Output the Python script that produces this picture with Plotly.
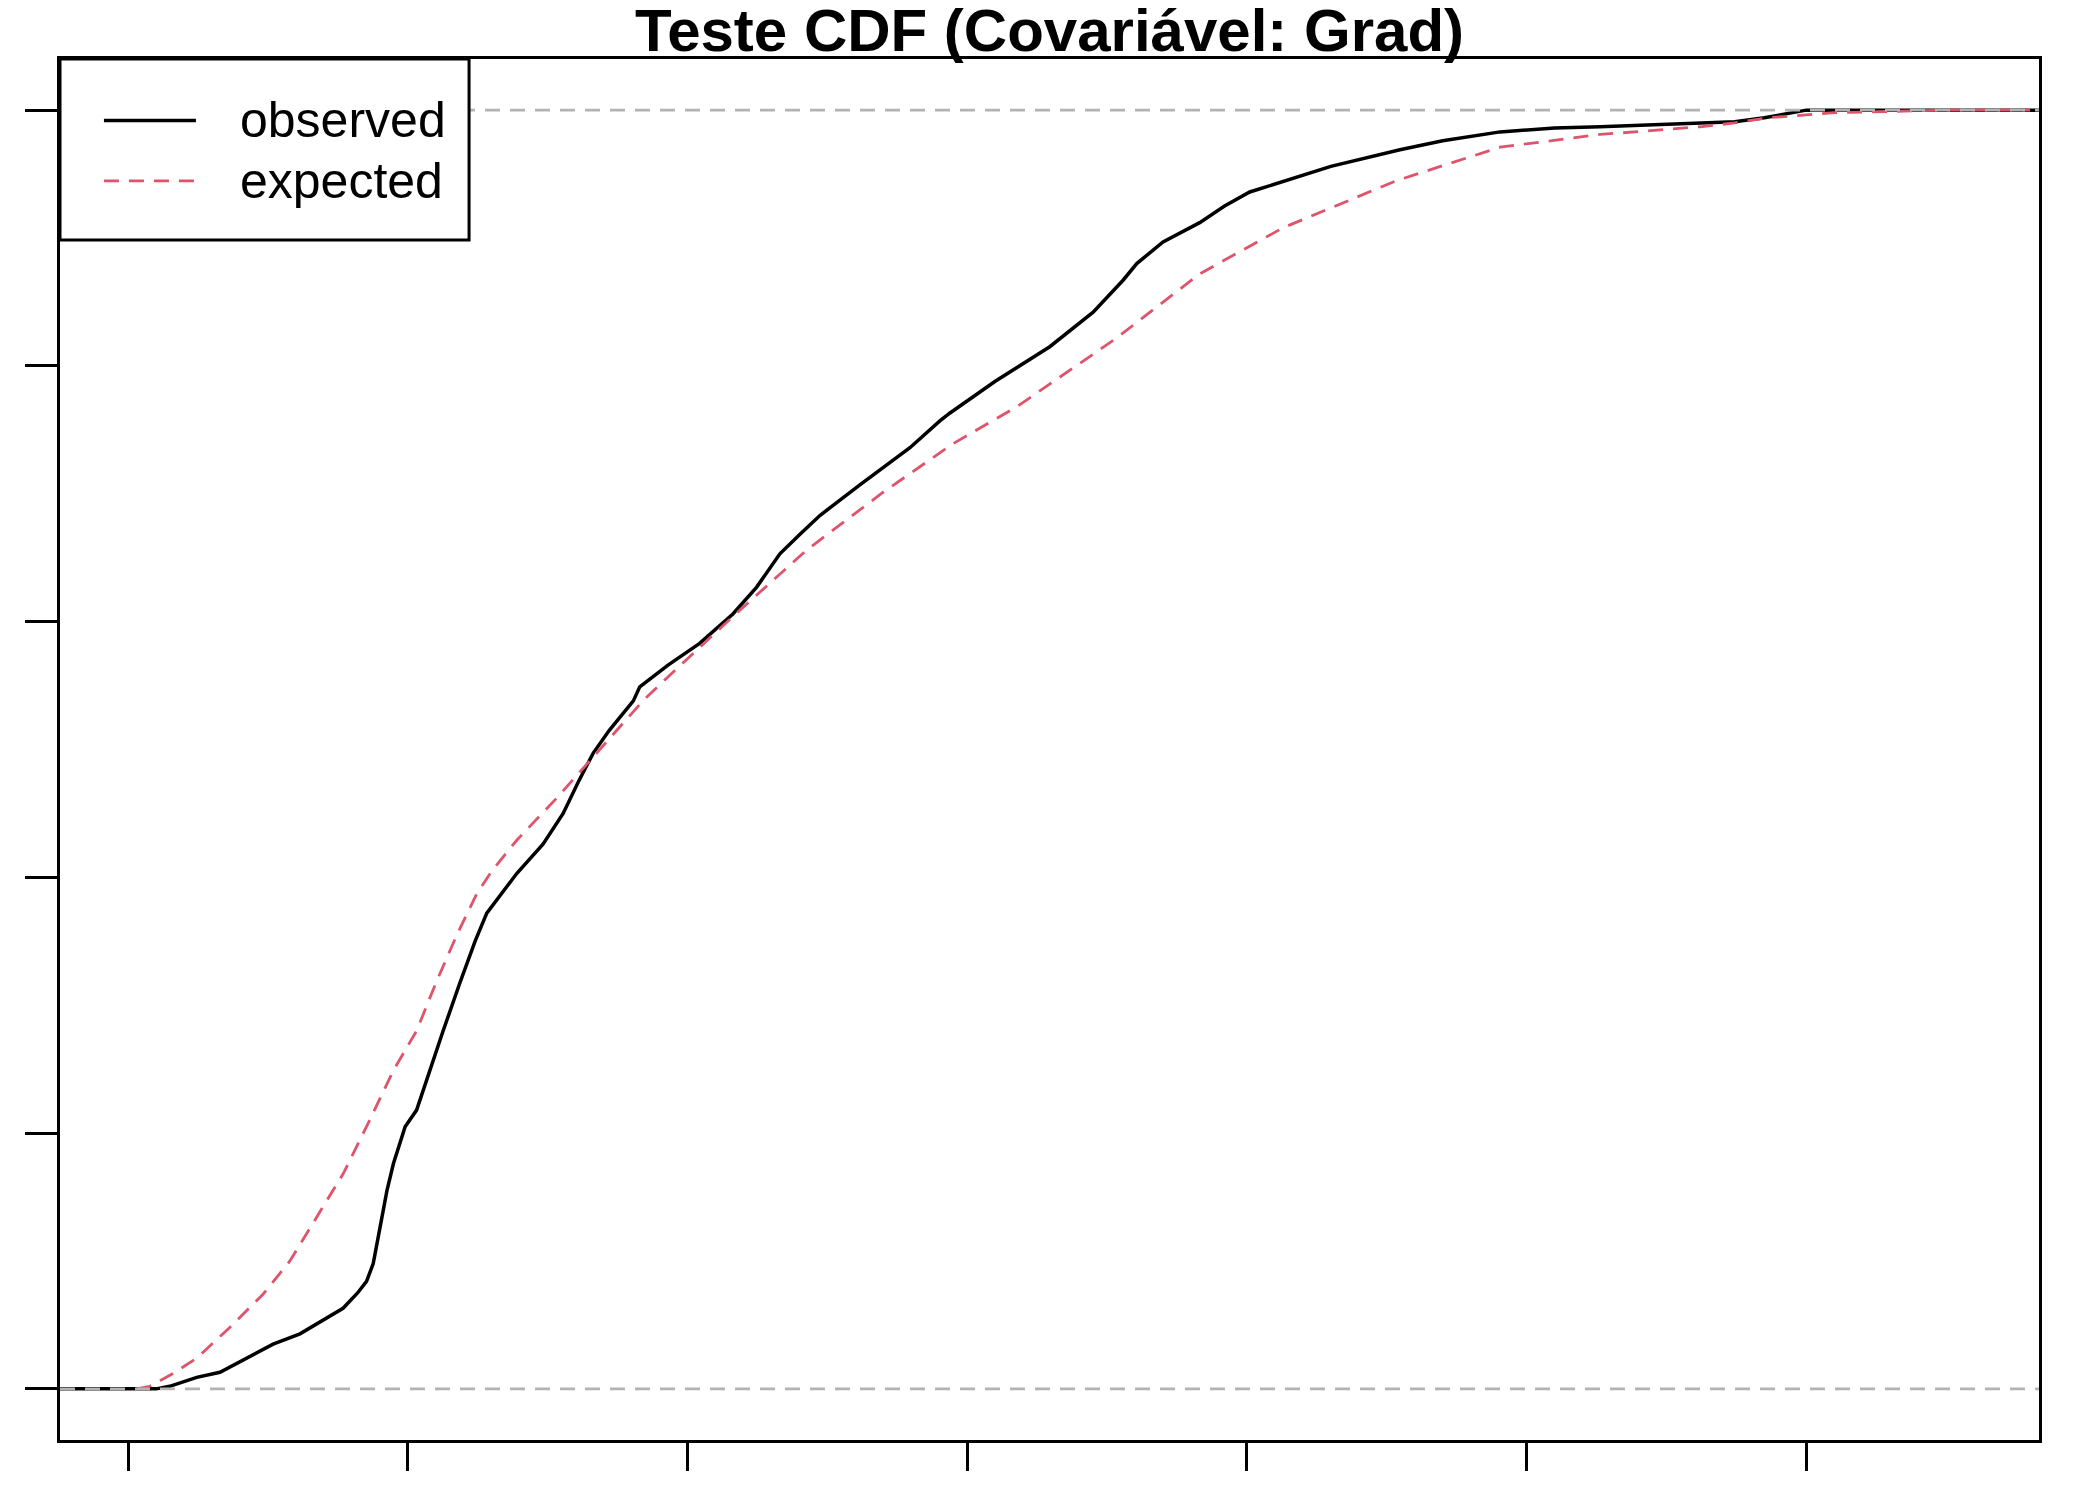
import plotly.graph_objects as go

# ---- data ----
x_ticks = [0, 1, 2, 3, 4, 5, 6]
y_ticks = [0, 0.2, 0.4, 0.6, 0.8, 1.0]
x_range = [-0.244, 6.832]
y_range = [-0.04, 1.04]

obs_x = [-0.244, 0.10, 0.148, 0.245, 0.328, 0.423, 0.518, 0.614, 0.690, 0.768, 0.82, 0.852, 0.876,
         0.90, 0.925, 0.948, 0.99, 1.031, 1.078, 1.126, 1.185, 1.24, 1.282, 1.317, 1.389, 1.483,
         1.555, 1.610, 1.662, 1.72, 1.806, 1.829, 1.93, 2.043, 2.162, 2.247, 2.330, 2.40, 2.473,
         2.616, 2.70, 2.795, 2.902, 2.937, 3.10, 3.295, 3.45, 3.557, 3.606, 3.70, 3.831, 3.92,
         4.010, 4.143, 4.30, 4.547, 4.70, 4.905, 5.10, 5.263, 5.386, 5.56, 5.744, 5.85, 5.93,
         6.0, 6.832]
obs_y = [0.0, 0.0, 0.002, 0.009, 0.013, 0.024, 0.035, 0.043, 0.053, 0.063, 0.075, 0.084, 0.098,
         0.125, 0.155, 0.176, 0.205, 0.218, 0.249, 0.280, 0.317, 0.350, 0.372, 0.382, 0.403, 0.426,
         0.450, 0.475, 0.497, 0.515, 0.538, 0.549, 0.566, 0.583, 0.606, 0.627, 0.653, 0.668, 0.683,
         0.707, 0.721, 0.736, 0.757, 0.763, 0.788, 0.815, 0.842, 0.867, 0.880, 0.897, 0.912, 0.925,
         0.936, 0.945, 0.956, 0.969, 0.976, 0.983, 0.986, 0.987, 0.988, 0.990, 0.991, 0.994, 0.997,
         1.0, 1.0]

exp_x = [0.03, 0.077, 0.160, 0.245, 0.363, 0.482, 0.578, 0.673, 0.768, 0.863, 0.948, 1.031, 1.103,
         1.175, 1.246, 1.30, 1.389, 1.532, 1.722, 1.840, 1.926, 2.187, 2.426, 2.698, 2.948, 3.177,
         3.535, 3.831, 4.129, 4.536, 4.905, 5.263, 5.386, 5.620, 5.744, 5.86, 6.10, 6.50, 6.80]
exp_y = [0.0, 0.002, 0.012, 0.024, 0.048, 0.074, 0.100, 0.134, 0.168, 0.210, 0.249, 0.280, 0.319,
         0.355, 0.387, 0.405, 0.429, 0.462, 0.509, 0.538, 0.556, 0.609, 0.656, 0.701, 0.739, 0.768,
         0.822, 0.872, 0.908, 0.945, 0.971, 0.981, 0.983, 0.987, 0.990, 0.994, 0.998, 1.0, 1.0]

ref_levels = [0, 1]
legend_labels = ["observed", "expected"]
title_text = "Teste CDF (Covariável: Grad)"

BLACK = "#000000"
RED = "#DF536B"
GRAY = "#B3B3B3"
FONT = "Liberation Sans, Arial, Helvetica, sans-serif"

fig = go.Figure()
fig.add_trace(go.Scatter(x=obs_x, y=obs_y, mode="lines", name=legend_labels[0],
                         line=dict(color=BLACK, width=3.5), showlegend=False))
fig.add_trace(go.Scatter(x=exp_x, y=exp_y, mode="lines", name=legend_labels[1],
                         line=dict(color=RED, width=2.8, dash="15px,10px"), showlegend=False))

# horizontal reference lines at 0 and 1 (gray dashed, drawn above curves)
for lv in ref_levels:
    fig.add_shape(type="line", xref="paper", yref="y", x0=0, x1=1, y0=lv, y1=lv,
                  line=dict(color=GRAY, width=2.6, dash="15px,10px"), layer="above")

# legend box drawn manually (R style)
L = dict(x0=0.0, x1=0.2067, y0=0.8689, y1=1.0)
fig.add_shape(type="rect", xref="paper", yref="paper", **L,
              line=dict(color=BLACK, width=3), fillcolor="white", layer="above")
rows = [0.9555, 0.9117]
styles = [dict(color=BLACK, width=3.5), dict(color=RED, width=2.8, dash="15px,10px")]
for label, ry, st in zip(legend_labels, rows, styles):
    fig.add_shape(type="line", xref="paper", yref="paper", x0=0.0222, x1=0.0687, y0=ry, y1=ry,
                  line=st, layer="above")
    fig.add_annotation(xref="paper", yref="paper", x=0.0898, y=ry, text=label, showarrow=False,
                       xanchor="left", yanchor="middle",
                       font=dict(family=FONT, size=50, color=BLACK))

fig.update_layout(
    width=2100, height=1500,
    margin=dict(l=52, r=69, t=51, b=68),
    paper_bgcolor="white", plot_bgcolor="white",
    title=dict(text="<b>" + title_text + "</b>", x=(52 + (2100 - 52 - 69) / 2) / 2100,
               xanchor="center", y=0.9855, yanchor="middle", yref="container",
               font=dict(family=FONT, size=60, color=BLACK)),
    font=dict(family=FONT),
)
fig.update_xaxes(range=x_range, tickvals=x_ticks, showticklabels=False, ticks="outside",
                 ticklen=28, tickwidth=2.5, tickcolor=BLACK, showgrid=False, zeroline=False,
                 showline=True, linecolor=BLACK, linewidth=3, mirror=True)
fig.update_yaxes(range=y_range, tickvals=y_ticks, showticklabels=False, ticks="outside",
                 ticklen=32, tickwidth=2.5, tickcolor=BLACK, showgrid=False, zeroline=False,
                 showline=True, linecolor=BLACK, linewidth=3, mirror=True)

fig.write_html("out.html")
